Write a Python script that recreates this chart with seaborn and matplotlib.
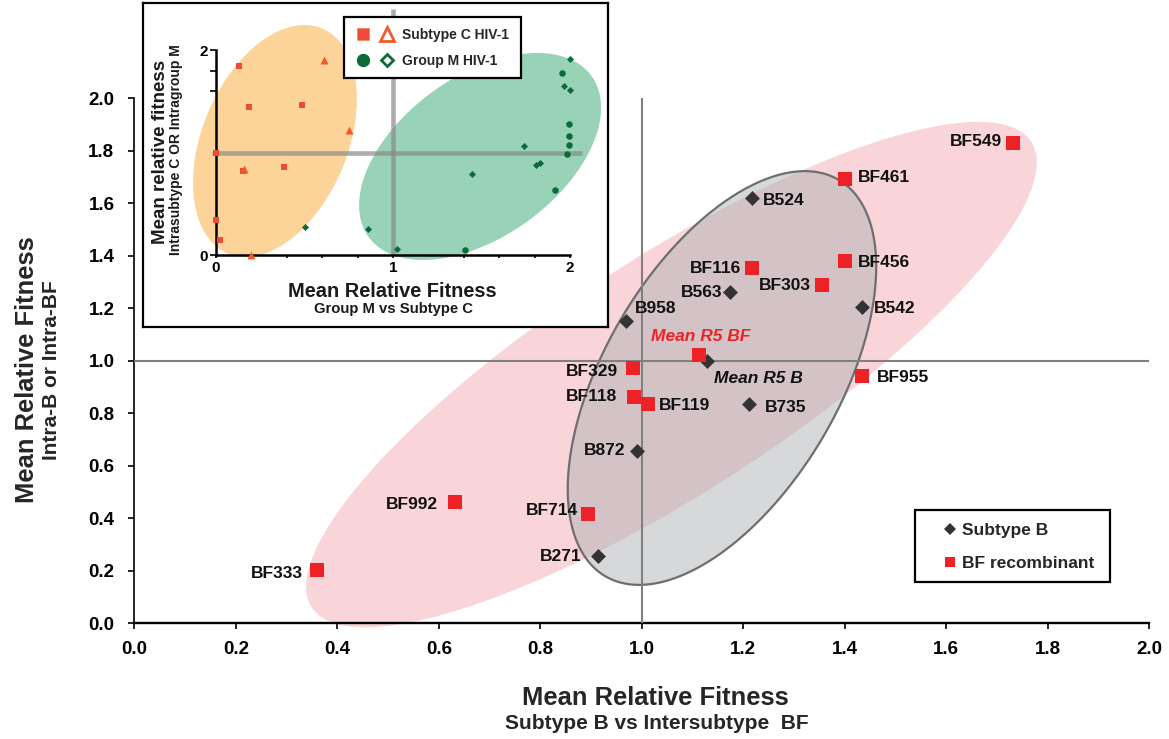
import numpy as np
import pandas as pd
import matplotlib
matplotlib.use("Agg")
import matplotlib.pyplot as plt
import seaborn as sns
from matplotlib.lines import Line2D
from matplotlib.patches import Polygon, Rectangle
from matplotlib.legend_handler import HandlerTuple
from matplotlib.ticker import MultipleLocator, FormatStrFormatter

sns.set_style("ticks")
plt.rcParams["font.family"] = ["Liberation Sans", "DejaVu Sans"]
plt.rcParams["font.weight"] = "bold"

# ---- main panel: subtype B isolates ----
b_names = ["B524", "B563", "B542", "B958", "Mean R5 B", "B735", "B872", "B271"]
b_x = [1.217, 1.174, 1.433, 0.969, 1.128, 1.211, 0.990, 0.914]
b_y = [1.620, 1.261, 1.206, 1.153, 1.000, 0.835, 0.656, 0.255]

# ---- main panel: BF recombinants ----
bf_names = ["BF549", "BF461", "BF116", "BF456", "BF303", "Mean R5 BF", "BF329",
            "BF955", "BF118", "BF119", "BF992", "BF714", "BF333"]
bf_x = [1.732, 1.400, 1.218, 1.400, 1.356, 1.112, 0.982, 1.433, 0.985, 1.012, 0.632, 0.894, 0.360]
bf_y = [1.831, 1.693, 1.352, 1.381, 1.289, 1.020, 0.972, 0.942, 0.862, 0.835, 0.461, 0.416, 0.202]

tick_values = [0.0, 0.2, 0.4, 0.6, 0.8, 1.0, 1.2, 1.4, 1.6, 1.8, 2.0]

# ---- inset: subtype C and group M ----
c_sq_x = [0.132, 0.185, 0.484, 0.386, 0.151, 0.000, 0.024, 0.000]
c_sq_y = [1.844, 1.447, 1.463, 0.855, 0.820, 0.345, 0.150, 1.000]
c_tri_x = [0.612, 0.753, 0.156, 0.196]
c_tri_y = [1.902, 1.220, 0.839, 0.000]
m_dot_x = [1.953, 1.994, 1.996, 1.996, 1.981, 1.915, 1.409]
m_dot_y = [1.772, 1.275, 1.158, 1.070, 0.985, 0.634, 0.052]
m_dia_x = [2.000, 1.966, 2.000, 1.740, 1.830, 1.808, 1.446, 0.501, 0.859, 1.021]
m_dia_y = [1.915, 1.649, 1.610, 1.063, 0.901, 0.875, 0.787, 0.276, 0.254, 0.055]

RED = "#ec2227"
DARK = "#333333"
C_RED = "#ef4a36"
C_ORANGE = "#f15a29"
M_GREEN = "#0d6b3a"

W, H = 1169, 739
fig = plt.figure(figsize=(W / 100, H / 100), dpi=100)


def fx(px):
    return px / W


def fy(py):
    return 1 - py / H


def ellipse(cx, cy, a_px, b_px, angle, ppx, ppy, **kw):
    """Rotated ellipse given in screen pixels, placed in data coordinates."""
    t = np.linspace(0, 2 * np.pi, 240)
    th = np.deg2rad(angle)
    dx = a_px * np.cos(t) * np.cos(th) - b_px * np.sin(t) * np.sin(th)
    dy = a_px * np.cos(t) * np.sin(th) + b_px * np.sin(t) * np.cos(th)
    return Polygon(np.column_stack([cx + dx / ppx, cy + dy / ppy]), closed=True, **kw)


# ================= main panel =================
ax_w, ax_h = 1015.0, 524.6
ax = fig.add_axes([fx(134.3), fy(623), ax_w / W, ax_h / H])
ax.set_xlim(0, 2)
ax.set_ylim(0, 2)
ppx, ppy = ax_w / 2, ax_h / 2

ax.add_patch(ellipse(1.0585, 0.947, 428.5, 117.3, 32.9, ppx, ppy,
                     fc="#f9d5d9", ec="none", zorder=1, clip_on=False))
ax.add_patch(ellipse(1.158, 0.934, 230, 117, 59.5, ppx, ppy,
                     fc=(0.69, 0.70, 0.71, 0.5), ec="#6e6e6e", lw=1.6, zorder=2))
ax.plot([1, 1], [0, 2], color="#808080", lw=1.5, zorder=3)
ax.plot([0, 2], [1, 1], color="#808080", lw=1.5, zorder=3)

df_b = pd.DataFrame({"x": b_x, "y": b_y, "name": b_names})
df_bf = pd.DataFrame({"x": bf_x, "y": bf_y, "name": bf_names})
sns.scatterplot(data=df_b, x="x", y="y", marker="D", s=58, color=DARK,
                linewidth=0, ax=ax, zorder=5)
sns.scatterplot(data=df_bf, x="x", y="y", marker="s", s=92, color=RED,
                linewidth=0, ax=ax, zorder=6)

# label placement: (dx px, dy px downward, alignment)
label_pos = {
    "B524": (11, 2, "left"), "B563": (-8, 0, "right"), "B542": (12, 2, "left"),
    "B958": (9, -12, "left"), "Mean R5 B": (7, 18, "left"), "B735": (16, 4, "left"),
    "B872": (-11, 0, "right"), "B271": (-17, 0, "right"),
    "BF549": (-11, -1, "right"), "BF461": (13, -1, "left"), "BF116": (-11, 0, "right"),
    "BF456": (13, 2, "left"), "BF303": (-12, 1, "right"), "Mean R5 BF": (2, -19, "center"),
    "BF329": (-15, 3, "right"), "BF955": (15, 2, "left"), "BF118": (-17, 0, "right"),
    "BF119": (11, 2, "left"), "BF992": (-17, 2, "right"), "BF714": (-10, -3, "right"),
    "BF333": (-14, 3, "right"),
}
for df in (df_b, df_bf):
    for _, r in df.iterrows():
        dx, dy, ha = label_pos[r["name"]]
        style = "italic" if r["name"].startswith("Mean") else "normal"
        color = RED if r["name"] == "Mean R5 BF" else "#111111"
        ax.annotate(r["name"], (r["x"], r["y"]), xytext=(dx, -dy),
                    textcoords="offset pixels", ha=ha, va="center",
                    fontsize=12.5, fontweight="bold", fontstyle=style,
                    color=color, zorder=7)

ax.set_xticks(tick_values)
ax.set_yticks(tick_values)
ax.xaxis.set_major_formatter(FormatStrFormatter("%.1f"))
ax.yaxis.set_major_formatter(FormatStrFormatter("%.1f"))
ax.tick_params(axis="x", direction="out", length=4.3, width=1.2, labelsize=13.5, pad=9, colors="black")
ax.tick_params(axis="y", direction="out", length=4.3, width=1.2, labelsize=13.5, pad=10, colors="black")
ax.set_xlabel("")
ax.set_ylabel("")
sns.despine(ax=ax)
ax.spines["left"].set_linewidth(1.2)
ax.spines["bottom"].set_linewidth(1.7)
ax.spines["left"].set_color("black")
ax.spines["bottom"].set_color("black")

fig.text(fx(655), fy(705), "Mean Relative Fitness", ha="center", va="baseline",
         fontsize=18.4, fontweight="bold")
fig.text(fx(657), fy(729), "Subtype B vs Intersubtype  BF", ha="center", va="baseline",
         fontsize=15, fontweight="bold")
fig.text(fx(34), fy(370), "Mean Relative Fitness", ha="center", va="baseline",
         rotation=90, rotation_mode="anchor", fontsize=18.4, fontweight="bold")
fig.text(fx(57), fy(370), "Intra-B or Intra-BF", ha="center", va="baseline",
         rotation=90, rotation_mode="anchor", fontsize=15, fontweight="bold")

# main legend
fig.add_artist(Rectangle((fx(915), fy(582)), 195 / W, 72 / H, transform=fig.transFigure,
                         fc="white", ec="black", lw=1.6, zorder=4))
main_handles = [
    Line2D([], [], marker="D", ls="none", markersize=6.6, color=DARK, mew=0),
    Line2D([], [], marker="s", ls="none", markersize=7.9, color=RED, mew=0),
]
fig.legend(main_handles, ["Subtype B", "BF recombinant"], loc="center left",
           bbox_to_anchor=(fx(943), fy(547)), frameon=False, borderpad=0,
           borderaxespad=0, handlelength=0.8, handletextpad=0.29, labelspacing=1.04,
           prop={"size": 12.5, "weight": "bold"})

# ================= inset =================
frame = fig.add_axes([fx(143), fy(327), 465 / W, 324 / H])
frame.set_xticks([])
frame.set_yticks([])
frame.set_facecolor("white")
for sp in frame.spines.values():
    sp.set_visible(True)
    sp.set_linewidth(1.6)
    sp.set_color("black")

ins_w, ins_h = 354.0, 205.0
ins = fig.add_axes([fx(216), fy(255), ins_w / W, ins_h / H])
ins.patch.set_alpha(0)
ins.set_xlim(0, 2)
ins.set_ylim(0, 2)
ipx, ipy = ins_w / 2, ins_h / 2

ins.add_patch(ellipse(0.333, 1.112, 122, 72.7, 67.3, ipx, ipy,
                      fc="#fcd49a", ec="none", zorder=1, clip_on=False))
ins.add_patch(ellipse(1.492, 0.961, 137.5, 80.3, 35.8, ipx, ipy,
                      fc="#98d3b8", ec="none", zorder=1, clip_on=False))
ins.plot([-0.02, 2.07], [1, 1], color="#8a8a8a", alpha=0.7, lw=3.3,
         solid_capstyle="butt", clip_on=False, zorder=2)
ins.plot([1, 1], [0, 2.4], color="#8a8a8a", alpha=0.7, lw=3.3,
         solid_capstyle="butt", clip_on=False, zorder=2)

sns.scatterplot(x=c_sq_x, y=c_sq_y, marker="s", s=19, color=C_RED, linewidth=0,
                ax=ins, zorder=3, clip_on=False)
sns.scatterplot(x=c_tri_x, y=c_tri_y, marker="^", s=33, color=C_ORANGE, linewidth=0,
                ax=ins, zorder=3, clip_on=False)
sns.scatterplot(x=m_dot_x, y=m_dot_y, marker="o", s=22, color=M_GREEN, linewidth=0,
                ax=ins, zorder=3, clip_on=False)
sns.scatterplot(x=m_dia_x, y=m_dia_y, marker="D", s=13, color=M_GREEN, linewidth=0,
                ax=ins, zorder=3, clip_on=False)

ins.set_xticks([0, 1, 2])
ins.set_yticks([0, 1, 2])
ins.xaxis.set_minor_locator(MultipleLocator(0.2))
ins.yaxis.set_minor_locator(MultipleLocator(0.2))
ins.tick_params(axis="x", which="both", direction="out", length=2.5, width=1.2,
                labelsize=11, pad=2, colors="black")
ins.tick_params(axis="y", which="both", direction="out", length=4, width=1.2,
                labelsize=11, pad=2, colors="black")
sns.despine(ax=ins)
for side in ("left", "bottom"):
    ins.spines[side].set_linewidth(1.8)
    ins.spines[side].set_color("black")

fig.text(fx(392), fy(297), "Mean Relative Fitness", ha="center", va="baseline",
         fontsize=14.4, fontweight="bold", color="#1a1a1a")
fig.text(fx(393), fy(313), "Group M vs Subtype C", ha="center", va="baseline",
         fontsize=10.7, fontweight="bold", color="#1a1a1a")
fig.text(fx(165), fy(152), "Mean relative fitness", ha="center", va="baseline",
         rotation=90, rotation_mode="anchor", fontsize=13.5, fontweight="bold", color="#1a1a1a")
fig.text(fx(180), fy(150), "Intrasubtype C OR Intragroup M", ha="center", va="baseline",
         rotation=90, rotation_mode="anchor", fontsize=10, fontweight="bold", color="#1a1a1a")

# inset legend
fig.add_artist(Rectangle((fx(344), fy(78)), 177 / W, 61 / H, transform=fig.transFigure,
                         fc="white", ec="black", lw=1.6, zorder=4))
sq = Line2D([], [], marker="s", ls="none", markersize=9, mfc=C_RED, mec="#f58a5e", mew=0.6)
tri = Line2D([], [], marker="^", ls="none", markersize=10, mfc="white", mec=C_ORANGE, mew=2)
dot = Line2D([], [], marker="o", ls="none", markersize=8.6, mfc=M_GREEN, mec=M_GREEN)
dia = Line2D([], [], marker="D", ls="none", markersize=6.3, mfc="white", mec=M_GREEN, mew=2)
fig.legend([(sq, tri), (dot, dia)], ["Subtype C HIV-1", "Group M HIV-1"],
           handler_map={tuple: HandlerTuple(ndivide=None, pad=4 / 13.9)},
           loc="center left", bbox_to_anchor=(fx(353), fy(48)), frameon=False,
           borderpad=0, borderaxespad=0, handlelength=44 / 13.9, handletextpad=0.36,
           labelspacing=0.84, prop={"size": 10, "weight": "bold"})

fig.savefig("out.png", dpi=100)
